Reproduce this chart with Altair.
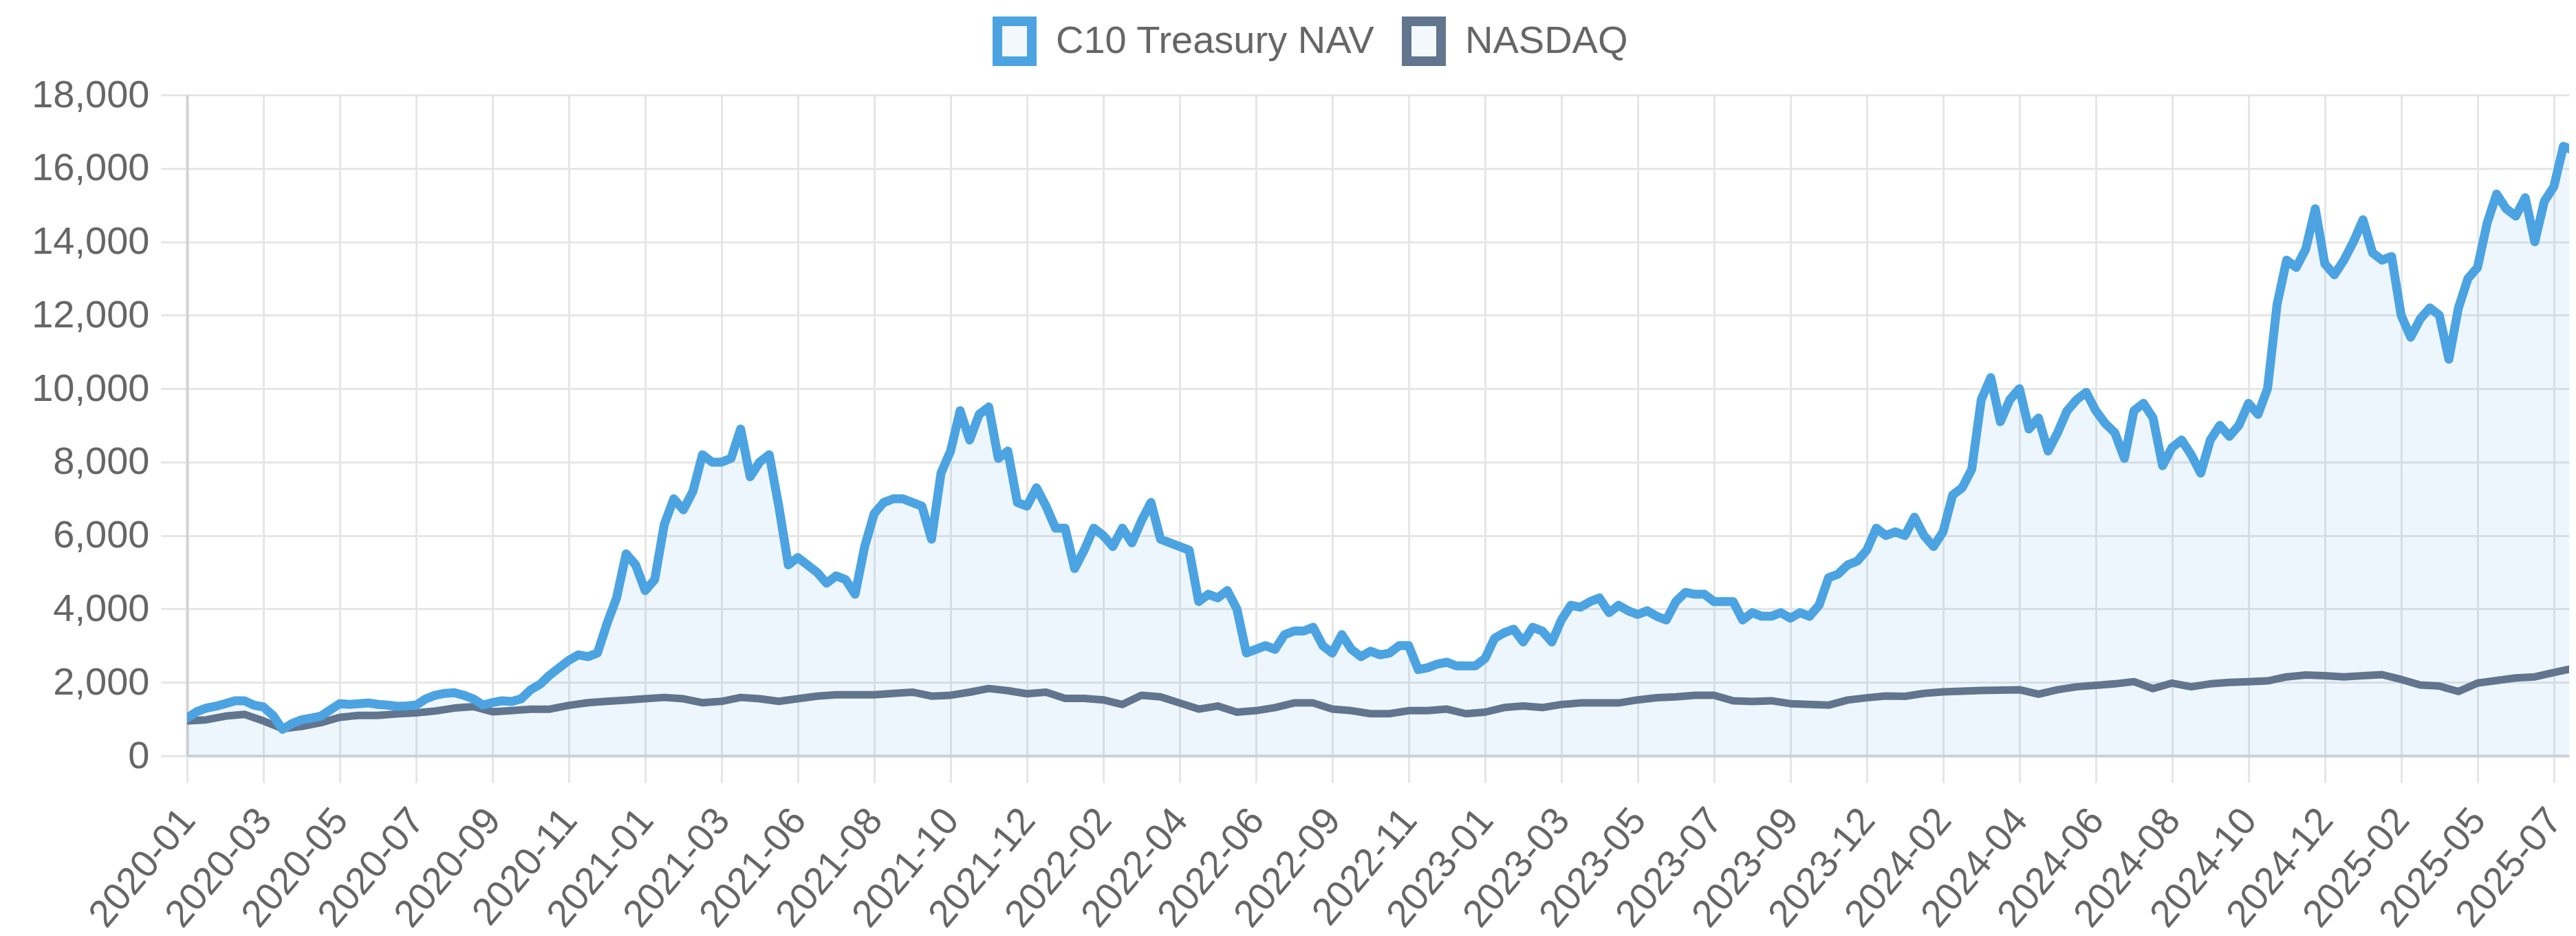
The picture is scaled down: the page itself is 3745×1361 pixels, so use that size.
import altair as alt
import pandas as pd

tick_labels = [
    "2020-01", "2020-03", "2020-05", "2020-07", "2020-09", "2020-11",
    "2021-01", "2021-03", "2021-06", "2021-08", "2021-10", "2021-12",
    "2022-02", "2022-04", "2022-06", "2022-09", "2022-11",
    "2023-01", "2023-03", "2023-05", "2023-07", "2023-09", "2023-12",
    "2024-02", "2024-04", "2024-06", "2024-08", "2024-10", "2024-12",
    "2025-02", "2025-05", "2025-07",
]

# samples per labelled tick interval
c10_step = 8
c10_values = [
    1030, 1200, 1300, 1350, 1420, 1500, 1500, 1380,
    1330, 1100, 720, 880, 980, 1030, 1080, 1250,
    1420, 1400, 1420, 1440, 1400, 1380, 1350, 1360,
    1380, 1550, 1650, 1700, 1720, 1650, 1550, 1380,
    1450, 1500, 1480, 1550, 1800, 1950, 2200, 2400,
    2600, 2750, 2700, 2800, 3600, 4300, 5500, 5200,
    4500, 4800, 6300, 7000, 6700, 7200, 8200, 8000,
    8000, 8100, 8900, 7600, 8000, 8200, 6800, 5200,
    5400, 5200, 5000, 4700, 4900, 4800, 4400, 5700,
    6600, 6900, 7000, 7000, 6900, 6800, 5900, 7700,
    8300, 9400, 8600, 9300, 9500, 8100, 8300, 6900,
    6800, 7300, 6800, 6200, 6200, 5100, 5600, 6200,
    6000, 5700, 6200, 5800, 6400, 6900, 5900, 5800,
    5700, 5600, 4200, 4400, 4300, 4500, 4000, 2800,
    2900, 3000, 2900, 3300, 3400, 3400, 3500, 3000,
    2800, 3300, 2900, 2700, 2850, 2750, 2800, 3000,
    3000, 2350, 2400, 2500, 2550, 2450, 2450, 2450,
    2650, 3200, 3350, 3450, 3100, 3500, 3400, 3100,
    3700, 4100, 4050, 4200, 4300, 3900, 4100, 3950,
    3850, 3950, 3800, 3700, 4200, 4450, 4400, 4400,
    4200, 4200, 4200, 3700, 3900, 3800, 3800, 3900,
    3750, 3900, 3800, 4100, 4850, 4950, 5200, 5300,
    5600, 6200, 6000, 6100, 6000, 6500, 6000, 5700,
    6100, 7100, 7300, 7800, 9700, 10300, 9100, 9700,
    10000, 8900, 9200, 8300, 8800, 9400, 9700, 9900,
    9400, 9050, 8800, 8100, 9400, 9600, 9200, 7900,
    8400, 8600, 8200, 7700, 8600, 9000, 8700, 9000,
    9600, 9300, 10000, 12300, 13500, 13300, 13800, 14900,
    13400, 13100, 13500, 14000, 14600, 13700, 13500, 13600,
    12000, 11400, 11900, 12200, 12000, 10800, 12200, 13000,
    13300, 14500, 15300, 14900, 14700, 15200, 14000, 15100,
    15500, 16600, 16500,
]

nasdaq_step = 4
nasdaq_values = [
    950, 980, 1080, 1130,
    950, 740, 800, 900,
    1050, 1100, 1100, 1140,
    1170, 1220, 1300, 1340,
    1200, 1230, 1270, 1270,
    1375, 1447, 1483, 1518,
    1554, 1590, 1554, 1447,
    1483, 1590, 1554, 1483,
    1554, 1626, 1662, 1662,
    1662, 1698, 1733, 1626,
    1650, 1733, 1833, 1775,
    1690, 1733, 1565, 1565,
    1523, 1398, 1649, 1607,
    1440, 1272, 1356, 1189,
    1230, 1314, 1440, 1440,
    1272, 1230, 1147, 1147,
    1230, 1230, 1272, 1147,
    1189, 1314, 1356, 1314,
    1398, 1440, 1440, 1440,
    1523, 1582, 1607, 1649,
    1649, 1500, 1480, 1500,
    1420, 1400, 1380, 1520,
    1580, 1630, 1620, 1700,
    1740, 1760, 1780, 1790,
    1800, 1680, 1800, 1880,
    1920, 1960, 2020, 1830,
    1980, 1880, 1960, 2000,
    2020, 2040, 2150, 2200,
    2180, 2150, 2180, 2210,
    2080, 1930, 1900, 1750,
    1980, 2050, 2120, 2150,
    2270, 2380,
]

series_names = ["C10 Treasury NAV", "NASDAQ"]
series_colors = ["#4ca3e1", "#62758f"]

c10_df = pd.DataFrame({
    "pos": [i / c10_step for i in range(len(c10_values))],
    "value": c10_values,
    "series": series_names[0],
})
nas_df = pd.DataFrame({
    "pos": [i / nasdaq_step for i in range(len(nasdaq_values))],
    "value": nasdaq_values,
    "series": series_names[1],
})

label_expr = "[" + ",".join("'%s'" % s for s in tick_labels) + "][datum.value]"

x_enc = alt.X(
    "pos:Q",
    scale=alt.Scale(domain=[0, 31.2], nice=False, zero=False),
    axis=alt.Axis(
        values=list(range(len(tick_labels))),
        labelExpr=label_expr,
        labelAngle=-50,
        labelAlign="right",
        labelBaseline="middle",
        labelOverlap=False,
        labelFlush=False,
        labelBound=False,
        labelLimit=1000,
        tickSize=39,
        labelPadding=45,
        labelOffset=1,
        title=None,
    ),
)
y_enc = alt.Y(
    "value:Q",
    scale=alt.Scale(domain=[0, 18000], nice=False),
    axis=alt.Axis(
        values=list(range(0, 18001, 2000)),
        format=",.0f",
        labelLimit=1000,
        tickSize=38,
        labelPadding=17,
        title=None,
    ),
)

color_enc = alt.Color(
    "series:N",
    scale=alt.Scale(domain=series_names, range=series_colors),
    legend=alt.Legend(
        orient="none",
        legendX=1167,
        legendY=-114,
        direction="horizontal",
        title=None,
        padding=0,
        symbolType="M-0.862,-1H0.862V1H-0.862Z",
        symbolSize=3364,
        symbolStrokeWidth=14,
        symbolFillColor="#f3f8fd",
        symbolOpacity=1,
        labelFontSize=56,
        labelFont="Liberation Sans",
        labelColor="#666666",
        labelLimit=1000,
        labelOffset=24,
        columnPadding=18,
    ),
)

area = alt.Chart(c10_df).mark_area(
    color="#1e88e5", opacity=0.075, clip=True
).encode(x=x_enc, y=y_enc)

nas_line = alt.Chart(nas_df).mark_line(
    strokeWidth=11, clip=True, strokeJoin="round", strokeCap="round"
).encode(x=x_enc, y=y_enc, stroke=color_enc)

c10_line = alt.Chart(c10_df).mark_line(
    strokeWidth=13, clip=True, strokeJoin="round", strokeCap="round"
).encode(x=x_enc, y=y_enc, stroke=color_enc)

chart = alt.layer(area, nas_line, c10_line).properties(
    width=3463,
    height=961,
    padding={"left": 264, "top": 130, "right": 2, "bottom": 260},
    autosize="none",
).configure_view(
    stroke=None
).configure_axis(
    gridColor="#e6e6e6",
    gridWidth=3,
    tickColor="#e6e6e6",
    tickWidth=3,
    domainColor="#d2d2d2",
    domainWidth=4,
    labelFont="Liberation Sans",
    labelFontSize=56,
    labelColor="#666666",
)

chart.save("out.html", embed_options={"renderer": "svg", "actions": False})
